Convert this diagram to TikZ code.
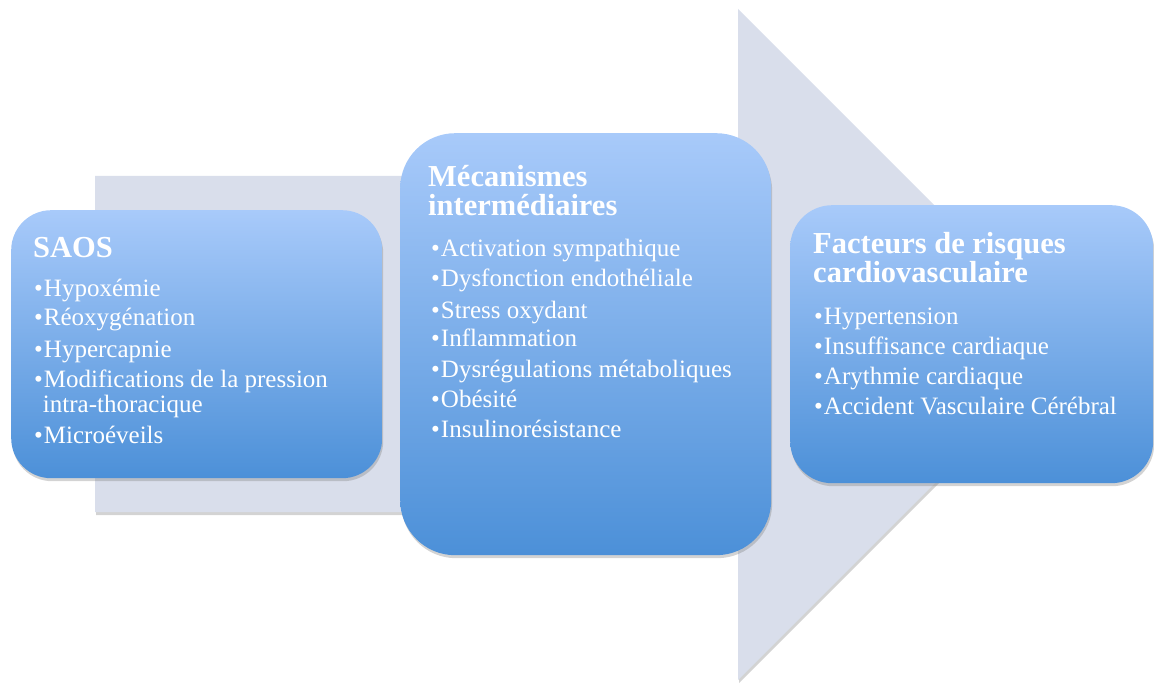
\documentclass[tikz,border=0pt]{standalone}
\usepackage{fontspec}
\setmainfont{Liberation Serif}
\usetikzlibrary{shadows}

\definecolor{flecheFond}{HTML}{D9DEEB}
\definecolor{boiteHaut}{HTML}{A8CAFA}
\definecolor{boiteBas}{HTML}{4C90D8}

\tikzset{
  ombre/.style={drop shadow={opacity=0.35, shadow xshift=1pt, shadow yshift=-3pt}},
  boite/.style={ombre, anchor=north west, inner sep=0pt, top color=boiteHaut, bottom color=boiteBas},
  % base = ligne de base de la derniere ligne
  titre/.style={anchor=base west, align=left, text=white, inner sep=0pt,
    font=\fontsize{30.5}{29}\selectfont\bfseries},
  liste/.style={anchor=base west, align=left, text=white, inner sep=0pt,
    font=\fontsize{25}{30}\selectfont},
}
\newcommand{\puce}{\textbullet\hspace{1pt}}
\newcommand{\sanspuce}{\phantom{\textbullet}\hspace{0pt}}

\begin{document}
\begin{tikzpicture}[x=1pt, y=-1pt]
        \useasboundingbox (0,0) rectangle (1154,684);
        \clip (0,0) rectangle (1154,684);

        % grande fleche de fond
        \fill[flecheFond, ombre] (95,176) -- (738,176) -- (738,9) -- (1073.5,344.5)
              -- (738,680) -- (738,512) -- (95,512) -- cycle;

        % les trois boites
        \node[boite, rounded corners=40pt, minimum width=371pt, minimum height=268pt] (saos) at (11,210) {};
        \node[boite, rounded corners=55pt, minimum width=371pt, minimum height=422pt] (meca) at (400,133) {};
        \node[boite, rounded corners=42pt, minimum width=363pt, minimum height=278pt] (risque) at (790,205) {};

        % SAOS
        \node[titre] (saosTitre) at (33,258) {SAOS};
        \node[liste] (saosListe) at (34,443) {\puce Hypoxémie\\[-1pt]
          \puce Réoxygénation\\[2pt]
          \puce Hypercapnie\\
          \puce Modifications de la pression\\[-5pt]
          \sanspuce intra-thoracique\\[1pt]
          \puce Microéveils};

        % mecanismes
        \node[titre] (mecaTitre) at (428,216) {Mécanismes\\intermédiaires};
        \node[liste] (mecaListe) at (431,437) {\puce Activation sympathique\\[-1pt]
          \puce Dysfonction endothéliale\\[2pt]
          \puce Stress oxydant\\[-1pt]
          \puce Inflammation\\
          \puce Dysrégulations métaboliques\\
          \puce Obésité\\
          \puce Insulinorésistance};

        % facteurs de risque
        \node[titre] (risqueTitre) at (813,283) {Facteurs de risques\\cardiovasculaire};
        \node[liste] (risqueListe) at (814,414) {\puce Hypertension\\
          \puce Insuffisance cardiaque\\[1pt]
          \puce Arythmie cardiaque\\[-1pt]
          \puce Accident Vasculaire Cérébral};
\end{tikzpicture}
\end{document}
